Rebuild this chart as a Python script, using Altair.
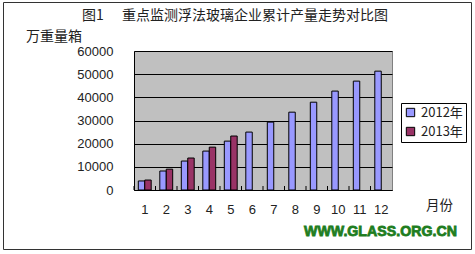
import altair as alt
import pandas as pd

months = [str(m) for m in range(1, 13)]
series_2012 = [3900, 8200, 12500, 16800, 21100, 25000, 29300, 33600, 37900, 42700, 47000, 51300]
series_2013 = [4300, 9000, 13800, 18500, 23300]
series_names = ["2012年", "2013年"]
colors = ["#9999ff", "#993366"]
y_ticks = [0, 10000, 20000, 30000, 40000, 50000, 60000]

title_prefix = "图1"
title_main = "重点监测浮法玻璃企业累计产量走势对比图"
y_title = "万重量箱"
x_title = "月份"
watermark = "WWW.GLASS.ORG.CN"

rows = []
for m, v in zip(months, series_2012):
    rows.append({"month": m, "series": series_names[0], "value": v})
for m, v in zip(months, series_2013):
    rows.append({"month": m, "series": series_names[1], "value": v})
df = pd.DataFrame(rows)

W, H = 258, 139
FONT = "Liberation Sans, Noto Sans CJK SC"
CJK = "Noto Sans CJK SC"

bars = alt.Chart(df).mark_bar(stroke="black", strokeWidth=1).encode(
    x=alt.X("month:O", sort=months,
            scale=alt.Scale(paddingInner=0.4, paddingOuter=0.2),
            axis=alt.Axis(title=None, labelAngle=0, ticks=False, domain=True,
                          domainColor="black", labelPadding=13, labelFontSize=13,
                          labelColor="#222", labelFont=FONT, grid=False)),
    xOffset=alt.XOffset("series:N", sort=series_names),
    y=alt.Y("value:Q", scale=alt.Scale(domain=[0, 60000], nice=False),
            axis=alt.Axis(title=None, values=y_ticks, ticks=False, domainColor="black",
                          labelPadding=21, labelFontSize=13, labelColor="#222",
                          labelFont=FONT, grid=True, gridColor="black", gridWidth=1,
                          format="d")),
    color=alt.Color("series:N", sort=series_names,
                    scale=alt.Scale(domain=series_names, range=colors),
                    legend=alt.Legend(title=None, orient="none", legendX=267, legendY=52,
                                      strokeColor="black", fillColor="white", padding=3,
                                      symbolType="square", symbolStrokeColor="black",
                                      symbolStrokeWidth=1, symbolSize=70,
                                      labelFontSize=13, labelFont=CJK, labelColor="#222",
                                      rowPadding=5, labelLimit=80)),
)

tick_df = pd.DataFrame({"month": months})
ticks = alt.Chart(tick_df).mark_rule(color="black", strokeWidth=1).encode(
    x=alt.X("month:O", sort=months, scale=alt.Scale(paddingInner=0, paddingOuter=0),
            axis=None, bandPosition=0),
    y=alt.value(H - 4),
    y2=alt.value(H),
)

def label(text, x, y, size=14, font=CJK, align="left", color="#222", weight="normal",
          stroke=None):
    kw = dict(align=align, baseline="middle", fontSize=size, font=font, color=color,
              fontWeight=weight)
    if stroke:
        kw.update(stroke=stroke, strokeWidth=0.8)
    return alt.Chart(pd.DataFrame({"t": [text]})).mark_text(**kw).encode(
        text="t:N", x=alt.value(x), y=alt.value(y))

ox, oy = 134, 51
texts = [
    label(title_prefix, 82 - ox, 16 - oy, size=14),
    label(title_main, 122 - ox, 16 - oy, size=14),
    label(y_title, 26 - ox, 37 - oy, size=14),
    label(x_title, 426 - ox, 206 - oy, size=13.5),
    label(watermark, 304 - ox, 232 - oy, size=14.2, font="Liberation Sans",
          color="#1e7d1e", weight="bold", stroke="#1e7d1e"),
]

frame = alt.Chart(pd.DataFrame({"a": [0]})).mark_rect(
    fill=None, stroke="#333", strokeWidth=1
).encode(x=alt.value(3.5 - ox), x2=alt.value(471.5 - ox),
         y=alt.value(2.5 - oy), y2=alt.value(249.5 - oy))

chart = alt.layer(bars, ticks, frame, *texts).resolve_scale(x="independent").properties(
    width=W, height=H,
    autosize=alt.AutoSizeParams(type="none"),
    padding={"left": ox, "top": oy, "right": 475 - ox - W, "bottom": 254 - oy - H},
    background="white",
).configure_view(fill="#c0c0c0", stroke="#808080", strokeWidth=1)

chart.save("out.html", embed_options={"renderer": "svg", "actions": False})
